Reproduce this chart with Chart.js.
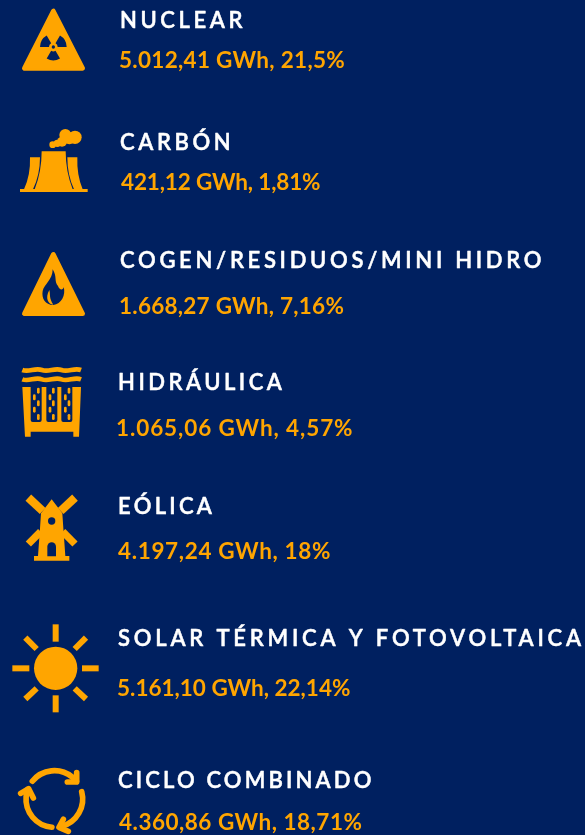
<!DOCTYPE html>
<html>
<head>
<meta charset="utf-8">
<style>
  html, body { margin: 0; padding: 0; background: #002060; overflow: hidden; }
  canvas { display: block; }
</style>
<script src="https://cdn.jsdelivr.net/npm/chart.js@4"></script>
</head>
<body>
<canvas id="chart" width="585" height="835"></canvas>
<script>
/* ===== DATA ===== */
const categories = ["NUCLEAR", "CARBÓN", "COGEN/RESIDUOS/MINI HIDRO", "HIDRÁULICA", "EÓLICA", "SOLAR TÉRMICA Y FOTOVOLTAICA", "CICLO COMBINADO"];
const gwh = [5012.41, 421.12, 1668.27, 1065.06, 4197.24, 5161.10, 4360.86];
const share = [21.5, 1.81, 7.16, 4.57, 18, 22.14, 18.71];

/* ===== LAYOUT (page px) ===== */
const iconTop = [0, 120, 235, 365, 485, 615, 750];
const iconHeight = [80, 90, 90, 85, 80, 105, 85];
const titleX = [120, 120, 120, 118, 118, 118, 118];
const titleY = [28, 150, 268, 390, 514, 646, 788];
const titleSpacing = [3.6, 3.6, 3.7, 3.5, 3.3, 3.8, 3.15];
const valueX = [119, 121, 119, 116, 118, 117, 119];
const valueY = [68, 190, 314, 436, 559, 696, 830];
const valueSpacing = [0.4, -0.05, 0.35, 1, 0.75, 0.1, 0.6];

const NAVY = "#002060";
const ORANGE = "#ffa500";

/* ===== HELPERS ===== */
function formatGwh(v) {
  const parts = v.toFixed(2).split(".");
  return parts[0].replace(/\B(?=(\d{3})+$)/g, ".") + "," + parts[1];
}

function valueLabel(i) {
  return `${formatGwh(gwh[i])} GWh, ${String(share[i]).replace(".", ",")}%`;
}

function poly(c, pts) {
  c.beginPath();
  pts.forEach((p, i) => (i ? c.lineTo(p[0], p[1]) : c.moveTo(p[0], p[1])));
  c.closePath();
  c.fill();
}

function line(c, x1, y1, x2, y2, w, cap) {
  c.lineWidth = w;
  c.lineCap = cap || "butt";
  c.beginPath();
  c.moveTo(x1, y1);
  c.lineTo(x2, y2);
  c.stroke();
}

function triangle(c, top, bottom) {
  c.lineJoin = "round";
  c.lineWidth = 14;
  c.strokeStyle = ORANGE;
  c.beginPath();
  c.moveTo(160, top + 8);
  c.lineTo(73, bottom - 7);
  c.lineTo(248, bottom - 7);
  c.closePath();
  c.stroke();
  c.fill();
}

/* ===== ICONS (drawn in 3x units) ===== */
const iconDraw = [
  (c) => {
    triangle(c, 25, 212);
    c.fillStyle = NAVY;
    [[Math.PI, Math.PI * 4 / 3], [Math.PI * 5 / 3, Math.PI * 2], [Math.PI / 3, Math.PI * 2 / 3]].forEach((a) => {
      c.beginPath();
      c.arc(160, 141, 40, a[0], a[1]);
      c.arc(160, 141, 13, a[1], a[0], true);
      c.closePath();
      c.fill();
    });
    c.beginPath();
    c.arc(160, 141, 5, 0, Math.PI * 2);
    c.fill();
  },
  (c) => {
    c.beginPath();
    c.moveTo(125, 454);
    c.lineTo(197, 454);
    c.quadraticCurveTo(197, 515, 218, 568);
    c.lineTo(104, 568);
    c.quadraticCurveTo(125, 515, 125, 454);
    c.fill();
    c.beginPath();
    c.moveTo(90, 472);
    c.lineTo(120, 472);
    c.quadraticCurveTo(120, 525, 99, 568);
    c.lineTo(72, 568);
    c.quadraticCurveTo(92, 525, 90, 472);
    c.fill();
    c.beginPath();
    c.moveTo(202, 472);
    c.lineTo(232, 472);
    c.quadraticCurveTo(230, 525, 248, 568);
    c.lineTo(222, 568);
    c.quadraticCurveTo(202, 525, 202, 472);
    c.fill();
    c.fillRect(60, 567, 203, 9);
    [[158, 434, 10], [172, 430, 11], [186, 425, 15], [196, 405, 18], [225, 412, 20], [208, 415, 18]].forEach((s) => {
      c.beginPath();
      c.arc(s[0], s[1], s[2], 0, Math.PI * 2);
      c.fill();
    });
  },
  (c) => {
    triangle(c, 50, 243);
    c.fillStyle = NAVY;
    c.beginPath();
    c.moveTo(158, 103);
    c.bezierCurveTo(172, 125, 162, 140, 174, 153);
    c.bezierCurveTo(178, 166, 190, 166, 191, 156);
    c.bezierCurveTo(198, 180, 184, 208, 160, 210);
    c.bezierCurveTo(136, 210, 124, 190, 128, 168);
    c.bezierCurveTo(132, 148, 158, 135, 158, 103);
    c.fill();
    c.fillStyle = ORANGE;
    c.beginPath();
    c.moveTo(148, 165);
    c.bezierCurveTo(152, 180, 146, 188, 160, 209);
    c.bezierCurveTo(145, 208, 134, 190, 148, 165);
    c.fill();
  },
  (c) => {
    [405, 433].forEach((y) => {
      c.lineWidth = 14;
      c.lineCap = "butt";
      c.strokeStyle = ORANGE;
      c.beginPath();
      c.moveTo(67, y);
      for (let i = 0; i < 3; i++) {
        const x = 67 + i * 58.7;
        c.bezierCurveTo(x + 20, y + 8, x + 38, y - 8, x + 58.7, y);
      }
      c.stroke();
    });
    poly(c, [[67, 456], [243, 456], [237, 605], [220, 605], [220, 590], [92, 590], [92, 605], [75, 605]]);
    c.fillStyle = NAVY;
    [92, 139, 184].forEach((x) => {
      c.beginPath();
      c.roundRect(x, 450, 33, 111, 6);
      c.fill();
    });
    c.strokeStyle = ORANGE;
    [[115, 103], [160, 150], [207, 196]].forEach((col) => {
      [467, 487, 505, 524, 546].forEach((y, i) => {
        const x = col[i % 2];
        line(c, x, y - 5, x, y + 5, 8, "round");
      });
    });
  },
  (c) => {
    c.strokeStyle = ORANGE;
    line(c, 128, 78, 85, 38, 25);
    line(c, 182, 78, 225, 38, 25);
    line(c, 122, 140, 85, 177, 22);
    line(c, 188, 140, 225, 177, 22);
    poly(c, [[155, 43], [187, 85], [190, 130], [196, 213], [208, 213], [208, 227], [102, 227], [102, 213], [114, 213], [120, 130], [123, 85]]);
    c.fillStyle = NAVY;
    c.beginPath();
    c.arc(155, 108, 11, 0, Math.PI * 2);
    c.fill();
    c.beginPath();
    c.moveTo(142, 214);
    c.lineTo(142, 185);
    c.arc(155, 185, 13, Math.PI, 0);
    c.lineTo(168, 214);
    c.fill();
  },
  (c) => {
    c.beginPath();
    c.arc(167, 550, 65, 0, Math.PI * 2);
    c.fill();
    c.strokeStyle = ORANGE;
    line(c, 167, 418, 167, 470, 18);
    line(c, 167, 631, 167, 682, 18);
    line(c, 37, 550, 88, 550, 18);
    line(c, 246, 550, 296, 550, 18);
    line(c, 76, 458, 110, 492, 18);
    line(c, 258, 458, 224, 492, 18);
    line(c, 76, 642, 110, 610, 18);
    line(c, 258, 642, 224, 610, 18);
  },
  (c) => {
    c.strokeStyle = ORANGE;
    c.lineWidth = 17;
    c.lineCap = "round";
    c.lineJoin = "round";
    [[-141, -39], [-15, 76], [95, 200]].forEach((a) => {
      c.beginPath();
      c.arc(163, 147, 85, a[0] * Math.PI / 180, a[1] * Math.PI / 180);
      c.stroke();
    });
    [[[230, 68], [230, 96], [202, 96]], [[190, 208], [177, 232], [205, 244]], [[62, 130], [86, 116], [100, 144]]].forEach((p) => {
      c.beginPath();
      c.moveTo(p[0][0], p[0][1]);
      c.lineTo(p[1][0], p[1][1]);
      c.lineTo(p[2][0], p[2][1]);
      c.stroke();
    });
  },
];

const iconCropTop = [0, 0, 235, 235, 485, 485, 750];

function makeIcon(i) {
  const cv = document.createElement("canvas");
  cv.width = 110;
  cv.height = iconHeight[i];
  const c = cv.getContext("2d");
  c.scale(1 / 3, 1 / 3);
  c.translate(0, (iconCropTop[i] - iconTop[i]) * 3);
  c.fillStyle = ORANGE;
  iconDraw[i](c);
  return cv;
}

/* ===== TEXT PLUGIN ===== */
const textPlugin = {
  id: "rowText",
  afterDatasetsDraw(chart) {
    const { ctx, scales } = chart;
    ctx.save();
    ctx.textAlign = "left";
    ctx.textBaseline = "alphabetic";
    ctx.lineJoin = "round";
    categories.forEach((name, i) => {
      const tx = scales.x.getPixelForValue(titleX[i]);
      const ty = scales.y.getPixelForValue(titleY[i]);
      ctx.font = "600 22px Lato, sans-serif";
      ctx.letterSpacing = titleSpacing[i] + "px";
      ctx.fillStyle = "#ffffff";
      ctx.strokeStyle = "#ffffff";
      ctx.lineWidth = 0.5;
      ctx.fillText(name, tx, ty);
      ctx.strokeText(name, tx, ty);

      ctx.font = "bold 22.5px Lato, sans-serif";
      ctx.letterSpacing = valueSpacing[i] - 0.1 + "px";
      ctx.fillStyle = ORANGE;
      ctx.fillText(valueLabel(i), scales.x.getPixelForValue(valueX[i]), scales.y.getPixelForValue(valueY[i]));
    });
    ctx.restore();
  },
};

/* ===== CHART ===== */
new Chart(document.getElementById("chart"), {
  type: "scatter",
  data: {
    datasets: [
      {
        data: categories.map((_, i) => ({ x: 55, y: iconTop[i] + iconHeight[i] / 2 })),
        pointStyle: categories.map((_, i) => makeIcon(i)),
        pointRadius: 10,
        clip: false,
      },
    ],
  },
  options: {
    responsive: false,
    animation: false,
    layout: { padding: 0, autoPadding: false },
    plugins: { legend: { display: false }, tooltip: { enabled: false } },
    scales: {
      x: { type: "linear", display: false, min: 0, max: 585 },
      y: { type: "linear", display: false, min: 0, max: 835, reverse: true },
    },
  },
  plugins: [
    {
      id: "background",
      beforeDraw(chart) {
        chart.ctx.fillStyle = NAVY;
        chart.ctx.fillRect(0, 0, chart.width, chart.height);
      },
    },
    textPlugin,
  ],
});
</script>
</body>
</html>
